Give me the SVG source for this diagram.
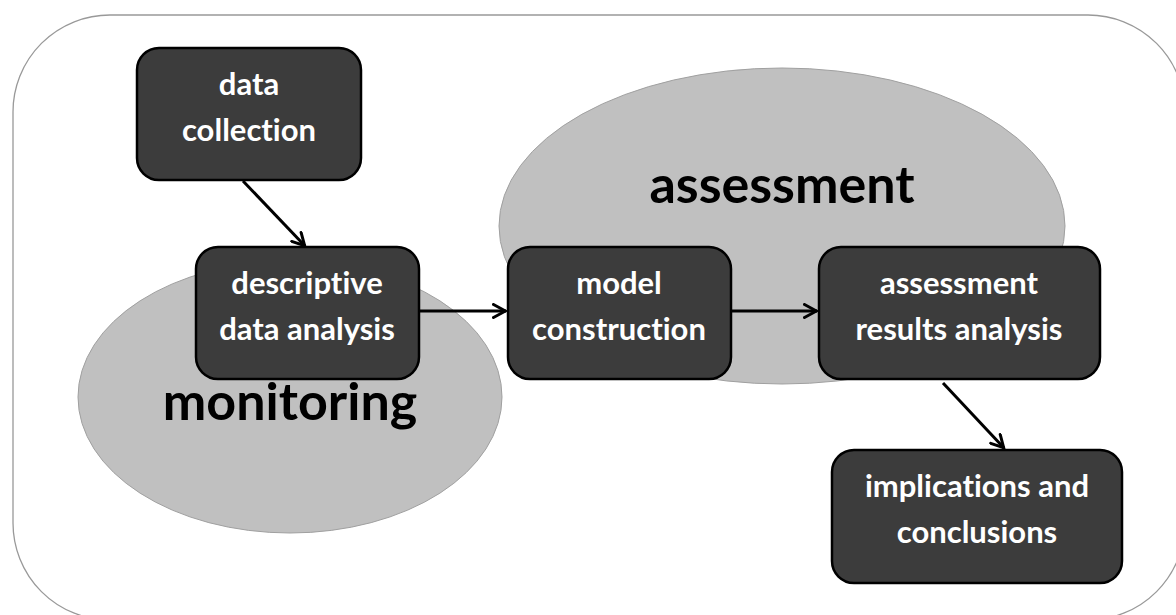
<svg xmlns="http://www.w3.org/2000/svg" width="1176" height="615" viewBox="0 0 1176 615">
<defs>
<marker id="arr" viewBox="0 0 16 16" refX="14.5" refY="8" markerWidth="16" markerHeight="16" markerUnits="userSpaceOnUse" orient="auto">
<path d="M2,1.5 L14,8 L2,14.5" fill="none" stroke="#000" stroke-width="3" stroke-linecap="round" stroke-linejoin="miter"/>
</marker>
<style>
.box{fill:#3c3c3c;stroke:#000;stroke-width:2.5}
.t{font-family:Lato,"Liberation Sans",sans-serif;font-weight:bold;font-size:31px;fill:#fff;text-anchor:middle;font-variant-ligatures:none}
.big{font-family:Lato,"Liberation Sans",sans-serif;font-weight:bold;font-size:52px;fill:#000;text-anchor:middle;font-variant-ligatures:none}
.ell{fill:#c0c0c0;stroke:#a0a0a0;stroke-width:1}
.c{stroke:#000;stroke-width:3;fill:none;marker-end:url(#arr)}
</style>
</defs>
<rect width="1176" height="615" fill="#fff"/>
<rect x="13" y="15" width="1172" height="605" rx="97" ry="97" fill="#fff" stroke="#999" stroke-width="1.3"/>
<g id="monitoring">
<ellipse class="ell" cx="290" cy="397" rx="212" ry="136"/>
<text class="big" x="290" y="420">monitoring</text>
</g>
<g id="assessment">
<ellipse class="ell" cx="782" cy="226" rx="283" ry="158"/>
<text class="big" x="782" y="203">assessment</text>
</g>
<g id="connectors">
<line class="c" x1="243" y1="181" x2="305" y2="246"/>
<line class="c" x1="419" y1="311" x2="506" y2="311"/>
<line class="c" x1="731" y1="311" x2="817" y2="311"/>
<line class="c" x1="943" y1="383" x2="1004" y2="448"/>
</g>
<g id="data-collection">
<rect class="box" x="137" y="48" width="224" height="132" rx="22"/>
<text class="t" x="249" y="95">data</text>
<text class="t" x="249" y="141">collection</text>
</g>
<g id="descriptive">
<rect class="box" x="196" y="247" width="223" height="132" rx="22"/>
<text class="t" x="307" y="294">descriptive</text>
<text class="t" x="307" y="340">data analysis</text>
</g>
<g id="model">
<rect class="box" x="508" y="247" width="223" height="132" rx="22"/>
<text class="t" x="619" y="294">model</text>
<text class="t" x="619" y="340">construction</text>
</g>
<g id="results">
<rect class="box" x="819" y="247" width="281" height="132" rx="22"/>
<text class="t" x="959" y="294">assessment</text>
<text class="t" x="959" y="340">results analysis</text>
</g>
<g id="implications">
<rect class="box" x="832" y="450" width="290" height="133" rx="22"/>
<text class="t" x="977" y="497">implications and</text>
<text class="t" x="977" y="543">conclusions</text>
</g>
</svg>
